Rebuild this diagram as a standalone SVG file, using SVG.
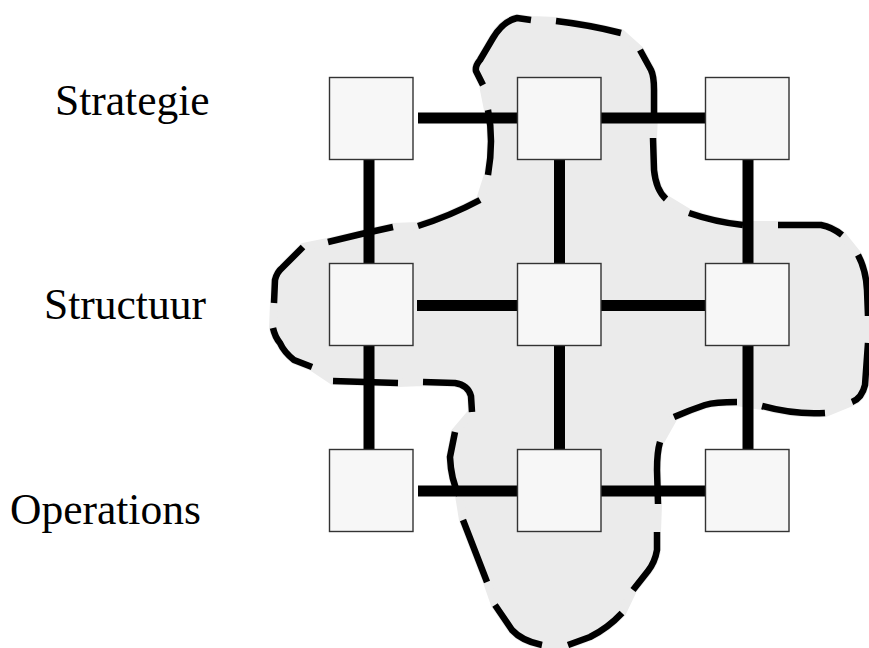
<svg xmlns="http://www.w3.org/2000/svg" width="869" height="648" viewBox="0 0 869 648">
  <style>
    .label { font-family: "Liberation Serif", "Times New Roman", serif; font-size: 43.5px; fill: #000; }
    .box { fill: #f7f7f7; stroke: #333; stroke-width: 1.4; }
    .link { stroke: #000; stroke-width: 11; fill: none; }
    .zone { fill: #ebebeb; stroke: #ebebeb; stroke-width: 8; stroke-linejoin: round; }
    .zone-edge { fill: none; stroke: #000; stroke-width: 6.5; stroke-linecap: butt; stroke-linejoin: round; }
  </style>
  <rect width="869" height="648" fill="#fff"/>

  <!-- shaded region spanning the grid -->
  <g id="region">
    <path class="zone" d="M483,85 L476,71 Q475,66 480,60 L493,38 Q503,21 517,18 L531,20 L556,21 Q590,25 621,33 L640,50 L651,70 Q654,76 654,90 L654,113 L653,138 L654,170 Q656,190 666,199 L689,213 Q715,222 743,225 L778,225 L821,225 Q832,227 842,235 L858,255 Q866,270 867,290 L868,316 L868,343 L865,385 Q862,398 852,402 L825,413 Q795,415 762,406 L737,402 Q715,402 705,405 Q690,410 674,417 L660,442 Q657,452 657,470 L658,504 L657,532 L657,550 Q655,562 648,571 L633,590 L622,613 Q608,628 590,637 L568,645 L542,645 Q522,641 512,630 L495,605 L487,582 L463,520 L459,495 Q451,480 450,457 L455,432 L472,412 L471,396 Q468,385 455,383 L423,382 L398,383 L333,381 L312,367 L294,360 Q284,352 280,343 Q275,337 273,328 L274,303 L275,280 Q277,272 282,268 L303,247 L328,242 Q360,234 393,227 L418,226 Q450,216 480,200 L488,175 Q494,140 488,110 Z"/>
  </g>

  <!-- grid connectors -->
  <g id="connectors">
    <path class="link" d="M418,118 H747"/>
    <path class="link" d="M417,305.5 H747"/>
    <path class="link" d="M418,491 H747"/>
    <path class="link" d="M369,118 V490"/>
    <path class="link" d="M559.5,118 V490"/>
    <path class="link" d="M748,118 V490"/>
  </g>

  <!-- dashed outline of the region -->
  <g id="region-outline">
    <path class="zone-edge" d="M483,85 L476,71 Q475,66 480,60 L493,38 Q503,21 517,18 L531,20
      M556,21 Q590,25 621,33
      M640,50 L651,70 Q654,76 654,90 L654,113
      M653,138 L654,170 Q656,190 666,199
      M689,213 Q715,222 743,225
      M778,225 L821,225 Q832,227 842,235
      M858,255 Q866,270 867,290 L868,316
      M868,343 L865,385 Q862,398 852,402
      M825,413 Q795,415 762,406
      M737,402 Q715,402 705,405 Q690,410 674,417
      M660,442 Q657,452 657,470 L658,504
      M657,532 L657,550 Q655,562 648,571 L633,590
      M622,613 Q608,628 590,637 L568,645
      M542,645 Q522,641 512,630 L495,605
      M487,582 L463,520
      M459,495 Q451,480 450,457 L455,432
      M472,412 L471,396 Q468,385 455,383 L423,382
      M398,383 L333,381
      M312,367 L294,360 Q284,352 280,343 Q275,337 273,328
      M274,303 L275,280 Q277,272 282,268 L303,247
      M328,242 Q360,234 393,227
      M418,226 Q450,216 480,200
      M488,175 Q494,140 488,110"/>
  </g>

  <!-- nodes -->
  <g id="n-1-1"><rect class="box" x="329.5" y="77.5" width="83.5" height="82"/></g>
  <g id="n-1-2"><rect class="box" x="517.5" y="77.5" width="83.5" height="82"/></g>
  <g id="n-1-3"><rect class="box" x="705.5" y="77.5" width="83.5" height="82"/></g>
  <g id="n-2-1"><rect class="box" x="329.5" y="263.5" width="83.5" height="82"/></g>
  <g id="n-2-2"><rect class="box" x="517.5" y="263.5" width="83.5" height="82"/></g>
  <g id="n-2-3"><rect class="box" x="705.5" y="263.5" width="83.5" height="82"/></g>
  <g id="n-3-1"><rect class="box" x="329.5" y="449.5" width="83.5" height="82"/></g>
  <g id="n-3-2"><rect class="box" x="517.5" y="449.5" width="83.5" height="82"/></g>
  <g id="n-3-3"><rect class="box" x="705.5" y="449.5" width="83.5" height="82"/></g>

  <!-- row labels -->
  <g id="labels">
    <text class="label" x="55" y="115">Strategie</text>
    <text class="label" x="44" y="319">Structuur</text>
    <text class="label" x="10" y="524">Operations</text>
  </g>
</svg>
